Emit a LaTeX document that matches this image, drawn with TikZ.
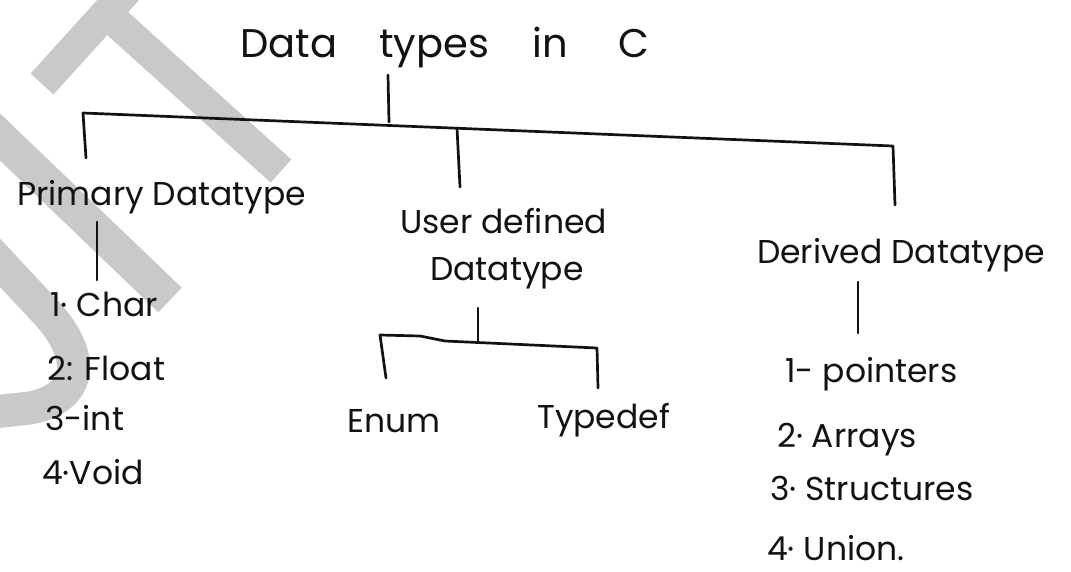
\documentclass[tikz,border=0pt]{standalone}
\usepackage{fontspec}
\setmainfont{Poppins}
\begin{document}
\begin{tikzpicture}[x=1pt,y=-1pt,
  wm/.style={draw=wmgray,line width=31pt,line cap=butt,line join=round},
  ln/.style={draw=inkc,line width=2.7pt,line cap=round,line join=round},
  txt/.style={text=inkc,inner sep=0pt,anchor=base west,font=\fontsize{33}{40}\selectfont},
  head/.style={txt,font=\fontsize{40}{46}\selectfont},
]
\definecolor{wmgray}{RGB}{201,201,201}
\definecolor{inkc}{RGB}{18,18,18}
\useasboundingbox (0,0) rectangle (1071,571);
\fill[white] (0,0) rectangle (1071,571);

% faint watermark letters on the left
\begin{scope}
\clip (0,0) rectangle (1071,571);
\draw[wm] (42,84) -- (178,-66);
\draw[wm] (106,13) -- (281,171);
\draw[wm,line width=34pt] (-25,113) -- (170,300);
\draw[wm,line width=33pt] (-25,236) -- (45,311) .. controls (88,357) and (82,398) .. (30,408) -- (-25,414);
\end{scope}

% headings
\node[head] (title) at (240,57) {Data\hspace{42pt}types\hspace{44pt}in\hspace{50pt}C};
\node[txt] (primary) at (17,205) {Primary Datatype};
\node[txt] (user1) at (400,233) {User defined};
\node[txt] (user2) at (430,280) {Datatype};
\node[txt] (derived) at (757,263) {Derived Datatype};
\node[txt] (enum) at (347,432) {Enum};
\node[txt] (typedef) at (537,428) {Typedef};

% primary types
\node[txt] (p1) at (50,316) {1· Char};
\node[txt] (p2) at (47,380) {2: Float};
\node[txt] (p3) at (45,430) {3-int};
\node[txt] (p4) at (42,484) {4·Void};

% derived types
\node[txt] (d1) at (785,382) {1- pointers};
\node[txt] (d2) at (777,447) {2· Arrays};
\node[txt] (d3) at (770,500) {3· Structures};
\node[txt] (d4) at (767,560) {4· Union.};

% branch points
\coordinate (tS) at (388,75);
\coordinate (bT) at (389,122);
\coordinate (bL) at (83,113);
\coordinate (bR) at (893,146);
\coordinate (bM) at (457,128);
\coordinate (pT) at (86,158);
\coordinate (uT) at (460,187);
\coordinate (dT) at (895,205);
\coordinate (pS1) at (97,222);
\coordinate (pS2) at (97,280);
\coordinate (uS1) at (478,308);
\coordinate (uS2) at (478,343);
\coordinate (sL) at (380,335);
\coordinate (sK1) at (420,336);
\coordinate (sK2) at (445,341);
\coordinate (sR) at (597,348);
\coordinate (eT) at (386,378);
\coordinate (tT) at (598,388);
\coordinate (dS1) at (858,282);
\coordinate (dS2) at (858,333);

% connectors
\draw[ln] (tS) -- (bT);
\draw[ln] (pT) -- (bL) -- (bR) -- (dT);
\draw[ln] (bM) -- (uT);
\draw[ln] (pS1) -- (pS2);
\draw[ln] (uS1) -- (uS2);
\draw[ln] (eT) -- (sL) -- (sK1) -- (sK2) -- (sR) -- (tT);
\draw[ln] (dS1) -- (dS2);
\end{tikzpicture}
\end{document}
